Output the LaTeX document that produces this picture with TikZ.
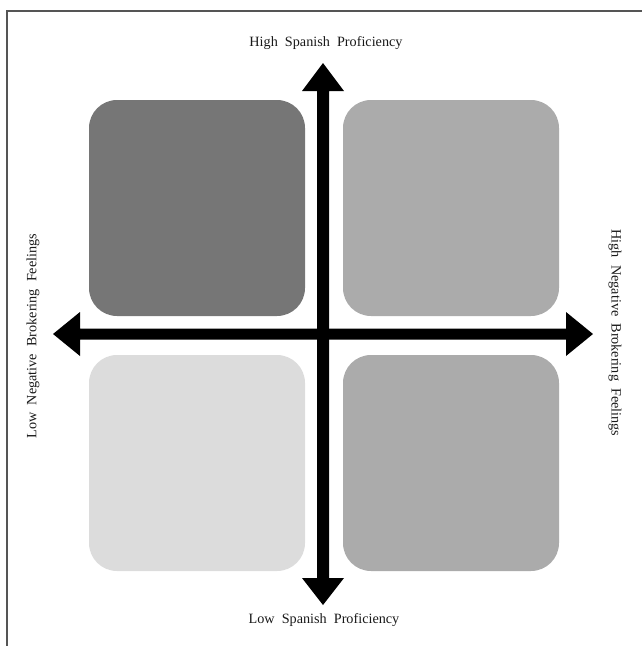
\documentclass[tikz,border=0pt]{standalone}
\usepackage{fontspec}
\setmainfont{Liberation Serif}
\definecolor{cdark}{HTML}{767676}
\definecolor{cmid}{HTML}{ABABAB}
\definecolor{clight}{HTML}{DCDCDC}
\definecolor{cframe}{HTML}{555555}
\begin{document}
\begin{tikzpicture}[x=1pt,y=-1pt,
  quad/.style={rounded corners=28pt, draw=none, minimum width=216pt, minimum height=216pt, inner sep=0pt},
  lab/.style={font=\fontsize{14.2}{16}\selectfont, inner sep=0pt, text=black!90},
  axis/.style={fill=black}]
\useasboundingbox (0,0) rectangle (642,646);
\draw[line width=2pt, color=cframe] (7,646) -- (7,11) -- (642,11);
\node[quad, fill=cdark] (tl) at (197,208) {};
\node[quad, fill=cmid] (tr) at (451,208) {};
\node[quad, fill=clight] (bl) at (197,463) {};
\node[quad, fill=cmid] (br) at (451,463) {};
% axes
\coordinate (c) at (323,334);
\fill[axis] (53,334) -- (80,312) -- (80,328.5) -- (566,328.5) -- (566,312) -- (593,334) -- (566,356) -- (566,339.5) -- (80,339.5) -- (80,356) -- cycle;
\fill[axis] (323,63) -- (344,91) -- (329,91) -- (329,578) -- (344,578) -- (323,605) -- (302,578) -- (317,578) -- (317,91) -- (302,91) -- cycle;
\node[lab] (top) at (326,43) {High\ \ Spanish\ \ Proficiency};
\node[lab] (bot) at (324,620) {Low\ \ Spanish\ \ Proficiency};
\node[lab, rotate=90] (left) at (33,336) {Low\ \ Negative\ \ Brokering\ \ Feelings};
\node[lab, rotate=-90] (right) at (615,333) {High\ \ Negative\ \ Brokering\ \ Feelings};
\end{tikzpicture}
\end{document}
